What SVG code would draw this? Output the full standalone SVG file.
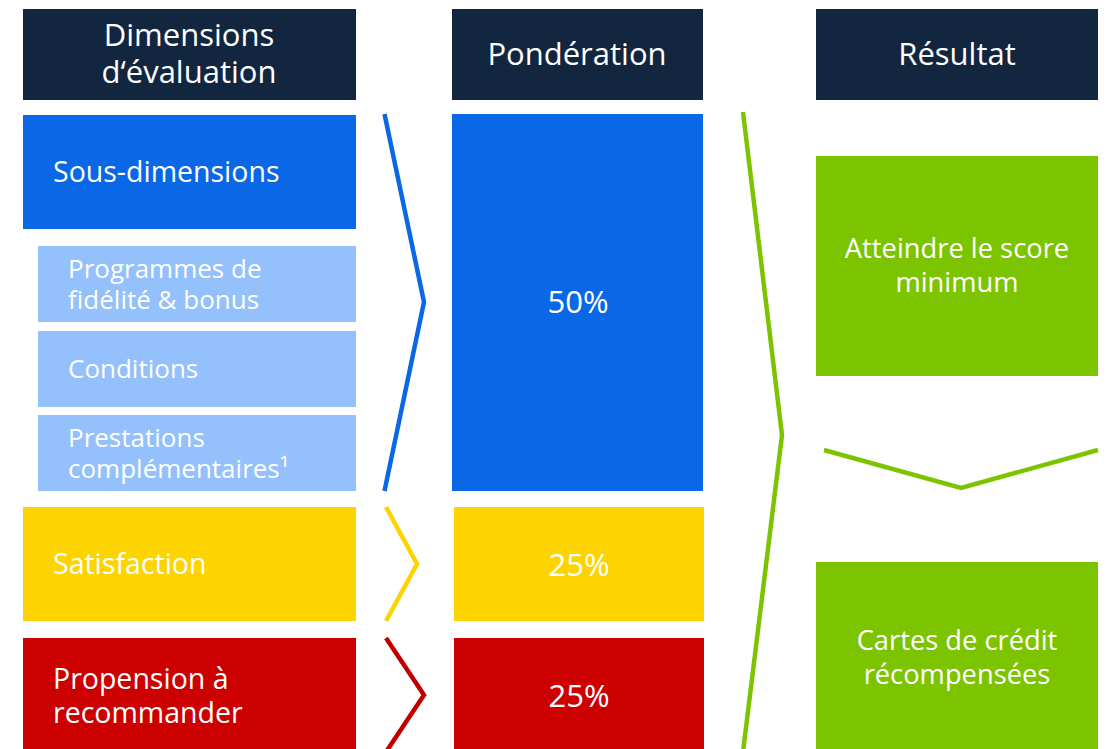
<svg xmlns="http://www.w3.org/2000/svg" width="1109" height="749" viewBox="0 0 1109 749">
  <style>
    text { font-family: "Open Sans", "Noto Sans", "Liberation Sans", sans-serif; fill: #ffffff; }
    .hdr { fill: #12263f; }
    .h { font-size: 31px; text-anchor: middle; }
    .lbl { font-size: 28.5px; }
    .sub { font-size: 26px; }
    .pct { font-size: 31px; text-anchor: middle; }
    .res { font-size: 27.3px; text-anchor: middle; }
    .chev { fill: none; stroke-width: 4.5; stroke-linejoin: miter; }
  </style>

  <!-- column headers -->
  <g id="hdr-dimensions">
    <rect class="hdr" x="23" y="9" width="333" height="91"/>
    <text class="h" x="189" y="46">Dimensions</text>
    <text class="h" x="189" y="83">d‘évaluation</text>
  </g>
  <g id="hdr-ponderation">
    <rect class="hdr" x="452" y="9" width="251" height="91"/>
    <text class="h" x="577" y="65">Pondération</text>
  </g>
  <g id="hdr-resultat">
    <rect class="hdr" x="816" y="9" width="282" height="91"/>
    <text class="h" x="957" y="65">Résultat</text>
  </g>

  <!-- evaluation dimensions -->
  <g id="sous-dimensions">
    <rect x="23" y="115" width="333" height="114" fill="#0a68e6"/>
    <text class="lbl" x="53" y="182">Sous-dimensions</text>
  </g>
  <g id="programmes">
    <rect x="38" y="246" width="318" height="76" fill="#94c0fb"/>
    <text class="sub" x="68" y="278">Programmes de</text>
    <text class="sub" x="68" y="309">fidélité &amp; bonus</text>
  </g>
  <g id="conditions">
    <rect x="38" y="331" width="318" height="76" fill="#94c0fb"/>
    <text class="sub" x="68" y="378">Conditions</text>
  </g>
  <g id="prestations">
    <rect x="38" y="415" width="318" height="76" fill="#94c0fb"/>
    <text class="sub" x="68" y="447">Prestations</text>
    <text class="sub" x="68" y="478">complémentaires¹</text>
  </g>
  <g id="satisfaction">
    <rect x="23" y="507" width="333" height="114" fill="#fdd400"/>
    <text class="lbl" x="53" y="574">Satisfaction</text>
  </g>
  <g id="propension">
    <rect x="23" y="638" width="333" height="111" fill="#cc0000"/>
    <text class="lbl" x="53" y="689">Propension à</text>
    <text class="lbl" x="53" y="723">recommander</text>
  </g>

  <!-- weights -->
  <g id="poids-50">
    <rect x="452" y="114" width="251" height="377" fill="#0a68e6"/>
    <text class="pct" x="578" y="313">50%</text>
  </g>
  <g id="poids-25a">
    <rect x="454" y="507" width="250" height="114" fill="#fdd400"/>
    <text class="pct" x="579" y="576">25%</text>
  </g>
  <g id="poids-25b">
    <rect x="454" y="638" width="250" height="111" fill="#cc0000"/>
    <text class="pct" x="579" y="707">25%</text>
  </g>

  <!-- results -->
  <g id="score-minimum">
    <rect x="816" y="156" width="282" height="220" fill="#7dc400"/>
    <text class="res" x="957" y="258">Atteindre le score</text>
    <text class="res" x="957" y="292">minimum</text>
  </g>
  <g id="cartes">
    <rect x="816" y="562" width="282" height="187" fill="#7dc400"/>
    <text class="res" x="957" y="650">Cartes de crédit</text>
    <text class="res" x="957" y="684">récompensées</text>
  </g>

  <!-- chevron connectors -->
  <g id="connectors">
    <polyline class="chev" stroke="#0a68e6" points="384.5,114 424,302 384.5,491"/>
    <polyline class="chev" stroke="#fdd400" points="386,507 417,564 386,621"/>
    <polyline class="chev" stroke="#c00000" points="386,638 424,695 386,752"/>
    <polyline class="chev" stroke="#7dc400" points="743,112 782,435 743,752"/>
    <polyline class="chev" stroke="#7dc400" points="824,450 961,488 1098,450"/>
  </g>
</svg>
